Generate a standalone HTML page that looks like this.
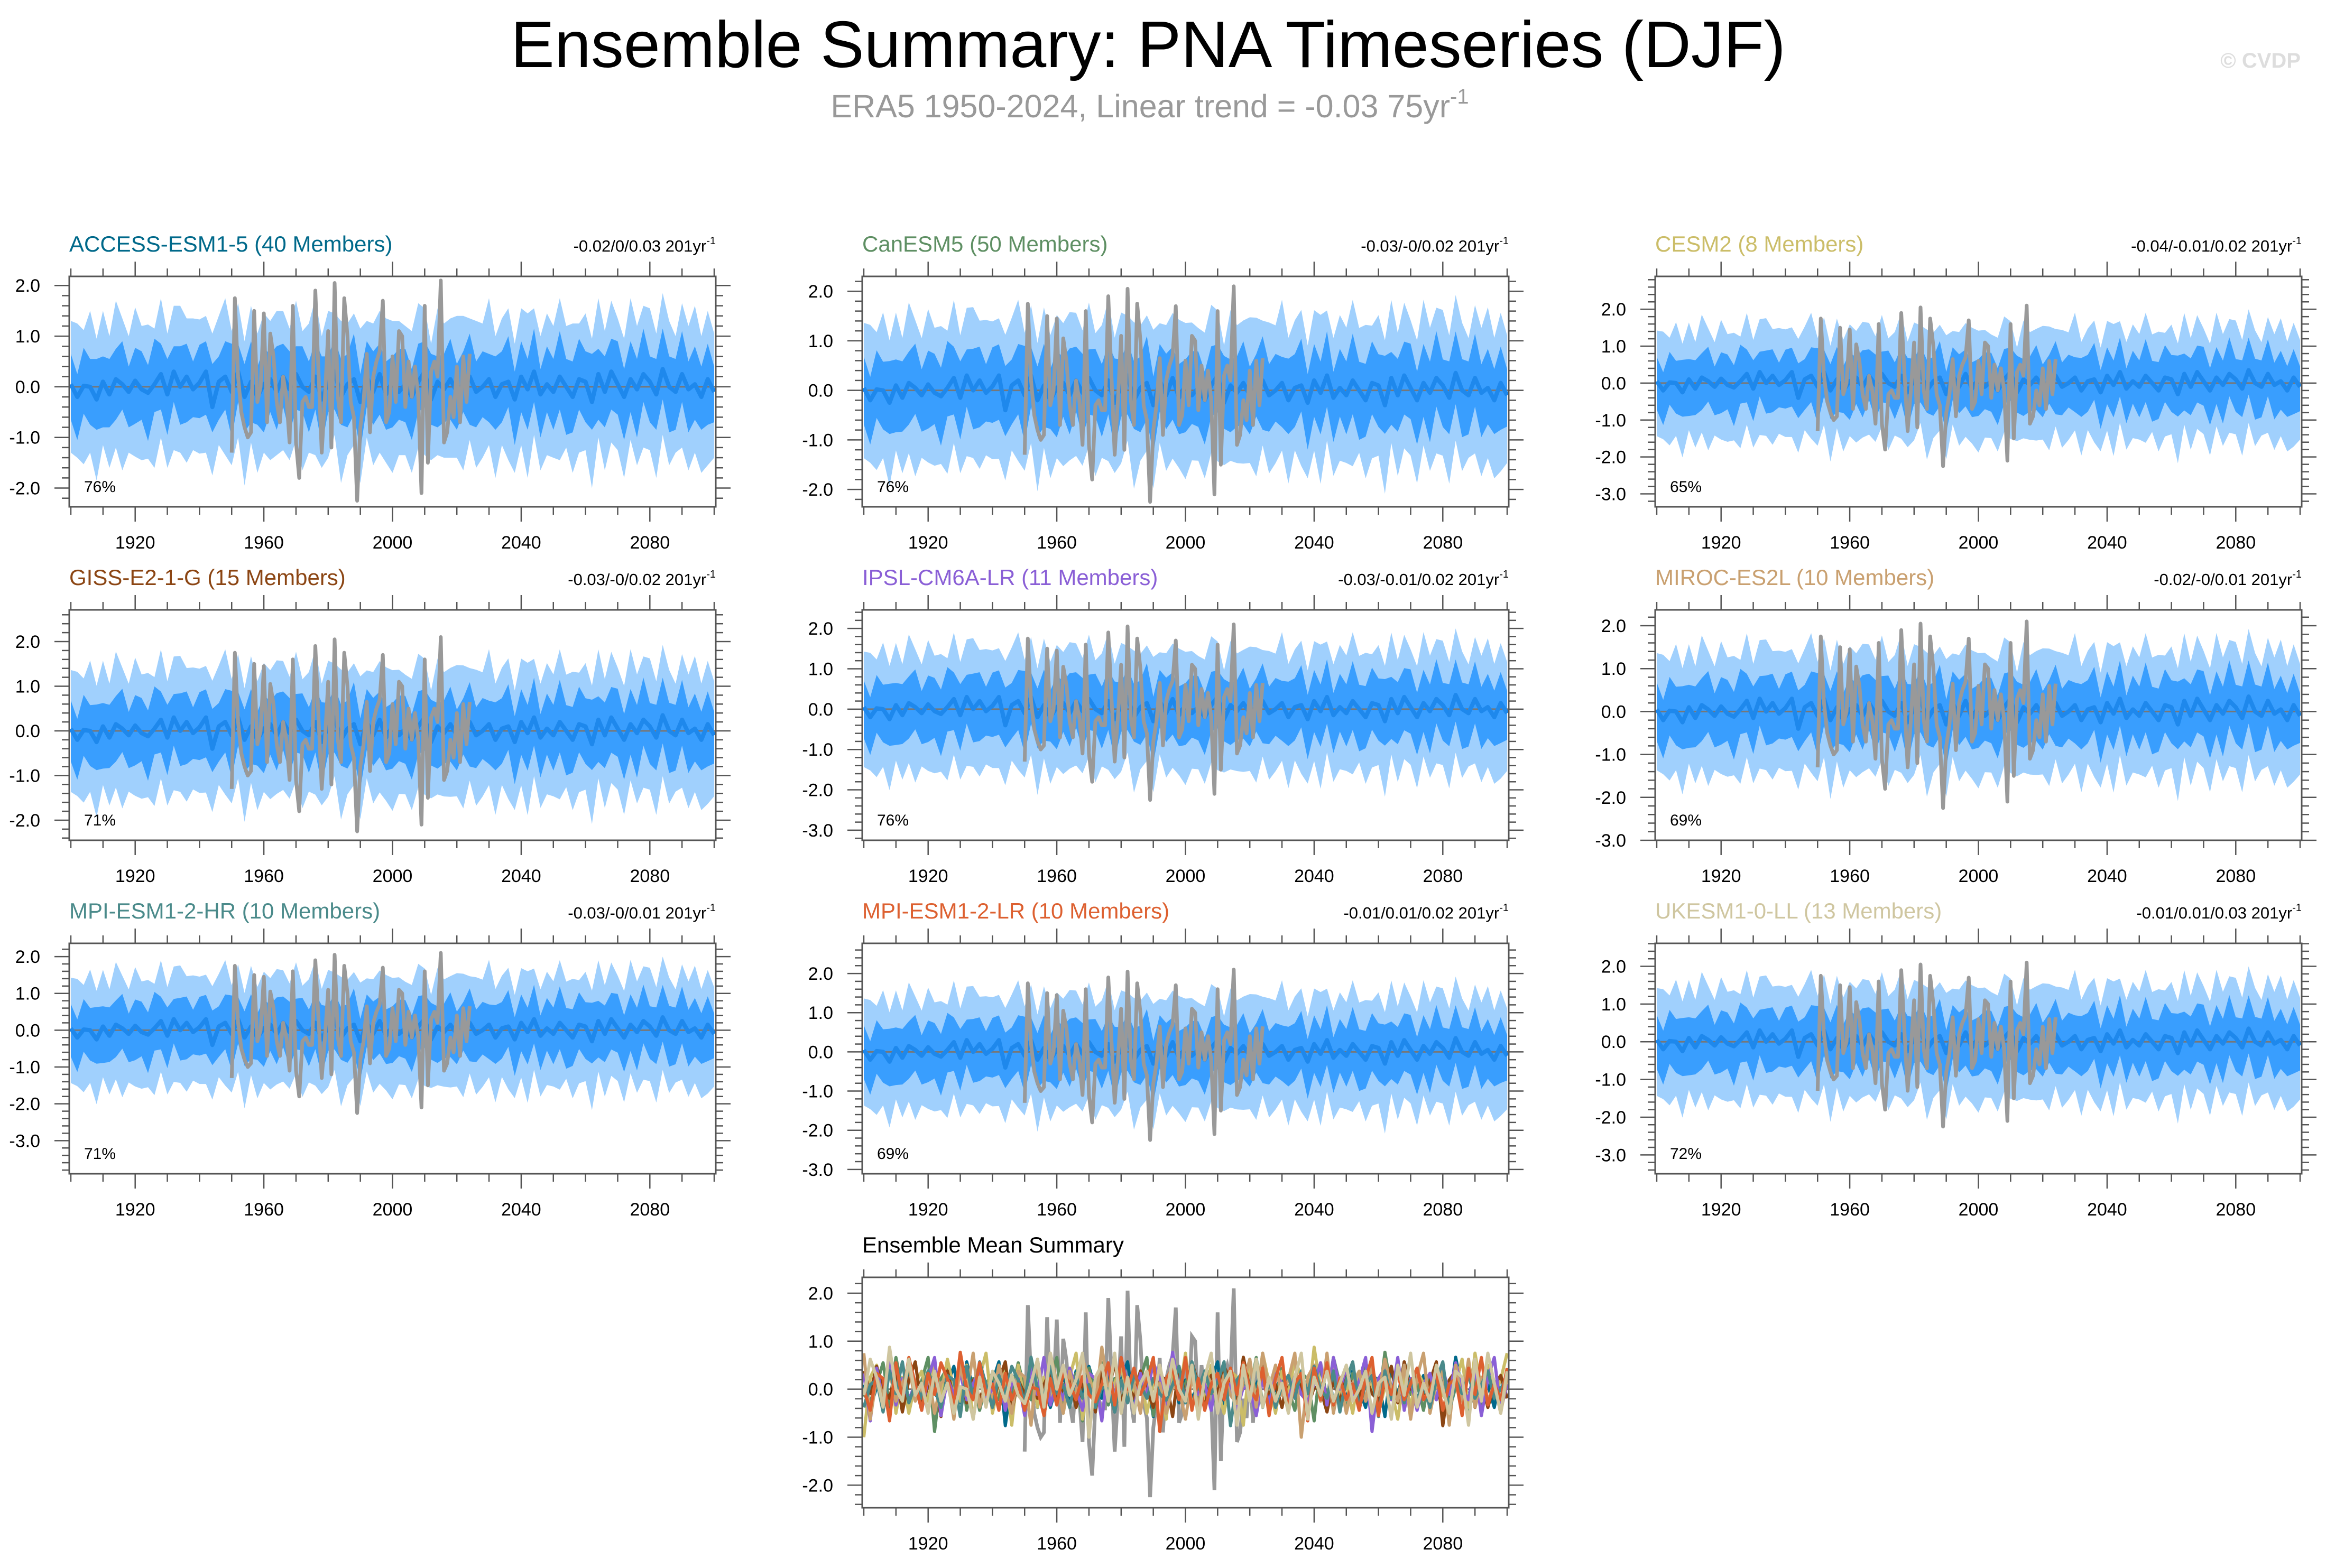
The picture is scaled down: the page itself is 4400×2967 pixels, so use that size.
<!DOCTYPE html>
<html><head><meta charset="utf-8"><title>Ensemble Summary: PNA Timeseries (DJF)</title>
<style>html,body{margin:0;padding:0;background:#fff}svg{display:block}text{font-family:"Liberation Sans",sans-serif}</style>
</head><body>
<svg id="chart" width="4400" height="2967" viewBox="0 0 4400 2967" xmlns="http://www.w3.org/2000/svg">
<text x="2172" y="127" font-size="124" text-anchor="middle" fill="#000">Ensemble Summary: PNA Timeseries (DJF)</text>
<text x="2175" y="222" font-size="61" text-anchor="middle" fill="#999">ERA5 1950-2024, Linear trend = -0.03 75yr<tspan dy="-26" font-size="40">-1</tspan></text>
<text x="4352" y="128" font-size="40" font-weight="bold" text-anchor="end" fill="#ddd">© CVDP</text>
<g id="panels"></g>
</svg>
<script>
// ERA5 observed PNA, 1950-2024
const obsYears0 = 1950;
const obsVals = [-1.3,1.75,0.2,-0.5,-0.8,-1.0,-0.9,1.5,-0.3,0.0,1.45,-0.7,1.05,0.6,-0.3,-0.7,0.2,-0.2,-1.1,1.6,-1.1,-1.8,-0.3,-0.2,-0.4,-0.4,1.9,0.3,-1.3,-0.2,1.1,-1.2,2.05,-0.2,-0.7,1.75,1.0,-0.3,-0.6,-2.25,-0.8,-0.3,0.65,-0.9,0.2,0.5,0.7,1.7,-0.7,-0.5,0.6,-0.3,1.1,1.0,-0.4,0.5,-0.2,0.4,-0.2,-2.1,1.6,-1.5,0.3,0.5,0.2,2.1,-1.1,-0.9,-0.2,-0.6,0.4,-0.7,0.6,-0.3,0.65];
// Ensemble statistics sampled every 2 years, 1900-2100
const meanV = [0.05,-0.2,0.02,0.0,-0.25,0.1,-0.15,0.15,0.05,-0.1,0.12,-0.05,-0.12,0.05,0.25,-0.15,0.3,0.0,0.2,-0.05,0.08,0.3,-0.4,0.1,0.2,-0.1,0.3,-0.2,0.1,-0.2,0.05,0.15,-0.1,0.2,-0.05,0.25,0.0,-0.1,0.2,-0.25,0.1,0.3,-0.2,0.05,0.15,-0.3,0.2,-0.1,0.25,-0.15,0.1,-0.1,0.05,-0.2,0.1,0.3,-0.25,0.1,-0.05,0.15,-0.1,0.05,0.2,-0.1,0.0,0.15,-0.2,0.05,0.1,-0.25,0.2,-0.05,0.3,-0.15,0.05,-0.1,0.2,0.0,-0.2,0.15,0.1,-0.3,0.25,-0.1,0.3,0.05,-0.2,0.15,-0.05,0.25,0.1,-0.15,0.35,0.0,-0.1,0.25,-0.05,0.05,-0.2,0.15,-0.1];
const inUp = [0.6,0.45,0.75,0.55,0.8,0.5,0.7,0.6,0.85,0.5,0.65,0.75,0.55,0.9,0.6,0.7,0.5,0.8,0.65,0.55,0.75,0.6,0.85,0.5,0.7,0.95,0.55,0.65,0.8,0.6,0.7,0.5,0.9,0.65,0.75,0.55,0.8,0.6,0.7,0.85,0.5,0.65,0.75,0.6,0.9,0.55,0.7,0.8,0.6,0.65,0.5,0.85,0.7,0.55,0.75,0.6,0.9,0.5,0.7,0.8,0.55,0.65,0.85,0.6,0.7,0.5,0.8,0.65,0.9,0.55,0.7,0.6,0.85,0.5,0.75,0.65,0.9,0.55,0.7,0.8,0.6,0.95,0.5,0.7,0.65,0.85,0.55,0.75,0.6,0.9,0.5,0.7,0.8,0.6,0.65,0.85,0.55,0.75,0.6,0.7,0.5];
const inDn = [0.7,0.85,0.55,0.75,0.6,0.9,0.65,0.8,0.5,0.7,0.85,0.6,0.95,0.55,0.7,0.8,0.6,0.75,0.9,0.55,0.7,0.85,0.5,0.75,0.65,0.9,0.6,0.7,0.8,0.55,0.95,0.65,0.75,0.6,0.85,0.7,0.5,0.8,0.65,0.9,0.6,0.75,0.55,0.85,0.7,0.95,0.6,0.65,0.8,0.7,0.9,0.55,0.75,0.85,0.6,0.7,0.5,0.9,0.65,0.8,0.75,0.55,0.95,0.7,0.6,0.85,0.65,0.75,0.5,0.9,0.7,0.8,0.6,0.85,0.55,0.75,0.65,0.95,0.7,0.6,0.8,0.55,0.9,0.7,0.75,0.6,0.85,0.65,0.95,0.55,0.8,0.7,0.6,0.9,0.75,0.55,0.85,0.7,0.65,0.9,0.6];
const outUp = [1.25,1.45,1.1,1.5,1.2,1.4,1.15,1.55,1.3,1.1,1.45,1.25,1.35,1.1,1.5,1.2,1.3,1.6,1.15,1.4,1.25,1.1,1.45,1.3,1.55,1.2,1.35,1.1,1.5,1.25,1.4,1.15,1.6,1.3,1.2,1.45,1.1,1.35,1.55,1.25,1.4,1.15,1.5,1.2,1.3,1.45,1.1,1.35,1.25,1.5,1.2,1.4,1.15,1.3,1.55,1.25,1.1,1.45,1.3,1.2,1.5,1.35,1.15,1.4,1.25,1.6,1.2,1.3,1.45,1.1,1.35,1.5,1.25,1.15,1.4,1.3,1.55,1.2,1.45,1.1,1.35,1.25,1.5,1.2,1.4,1.3,1.15,1.6,1.25,1.35,1.45,1.2,1.5,1.3,1.1,1.4,1.25,1.55,1.2,1.35,1.15];
const outDn = [1.35,1.2,1.55,1.3,1.6,1.25,1.45,1.35,1.7,1.2,1.5,1.4,1.3,1.65,1.25,1.45,1.55,1.3,1.7,1.2,1.4,1.6,1.35,1.25,1.55,1.45,1.3,1.75,1.2,1.5,1.35,1.6,1.25,1.45,1.4,1.3,1.65,1.2,1.55,1.35,1.5,1.25,1.7,1.4,1.3,1.6,1.2,1.45,1.55,1.35,1.8,1.25,1.4,1.5,1.3,1.65,1.2,1.45,1.35,1.55,1.3,1.7,1.25,1.5,1.4,1.3,1.6,1.2,1.55,1.45,1.35,1.75,1.25,1.5,1.4,1.3,1.65,1.2,1.5,1.45,1.35,1.7,1.25,1.55,1.4,1.3,1.6,1.2,1.5,1.45,1.35,1.65,1.3,1.55,1.2,1.45,1.6,1.35,1.5,1.7,1.3];
// Panel metadata
const modelNames = ["ACCESS-ESM1-5 (40 Members)","CanESM5 (50 Members)","CESM2 (8 Members)","GISS-E2-1-G (15 Members)","IPSL-CM6A-LR (11 Members)","MIROC-ES2L (10 Members)","MPI-ESM1-2-HR (10 Members)","MPI-ESM1-2-LR (10 Members)","UKESM1-0-LL (13 Members)"];
const modelColors = ["#00698a","#5e8f63","#cbbd68","#8b4513","#8a5fd6","#c9a070","#4a8a8a","#dd6030","#cfc6a0"];
const trendTexts = ["-0.02/0/0.03 201yr","-0.03/-0/0.02 201yr","-0.04/-0.01/0.02 201yr","-0.03/-0/0.02 201yr","-0.03/-0.01/0.02 201yr","-0.02/-0/0.01 201yr","-0.03/-0/0.01 201yr","-0.01/0.01/0.02 201yr","-0.01/0.01/0.03 201yr"];
const pctTexts = ["76%","76%","65%","71%","76%","69%","71%","69%","72%"];
const yMins = [-2.37,-2.35,-3.35,-2.45,-3.25,-3.0,-3.9,-3.11,-3.5];
const yMaxs = [2.18,2.3,2.89,2.71,2.46,2.37,2.36,2.77,2.61];
const spreadScale = [1.0,1.05,1.1,1.05,1.1,1.05,1.1,1.05,1.1];
const xTickLabels = [1920,1960,2000,2040,2080];

const NS = "http://www.w3.org/2000/svg";
const root = document.getElementById("panels");
function mk(tag, attrs, parent){ const e=document.createElementNS(NS,tag); for(const k in attrs) e.setAttribute(k,attrs[k]); (parent||root).appendChild(e); return e; }

const colX = [131,1631,3131], rowY = [523,1154,1785], PW = 1223, PH = 436;

function drawAxes(g, x0, y0, ymin, ymax, sx, sy){
  const box = mk("rect",{x:x0,y:y0,width:PW,height:PH,fill:"none",stroke:"#555","stroke-width":3},g);
  
  
  for(let yr=1900; yr<=2100; yr+=10){
    const major = (yr-1920)%40===0;
    const L = major?28:15, X = sx(yr);
    mk("line",{x1:X,x2:X,y1:y0,y2:y0-L,stroke:"#555","stroke-width":2.5},g);
    mk("line",{x1:X,x2:X,y1:y0+PH,y2:y0+PH+L,stroke:"#555","stroke-width":2.5},g);
  }
  xTickLabels.forEach(v=>{
    const t = mk("text",{x:sx(v),y:y0+PH+79,"font-size":34,"text-anchor":"middle",fill:"#000"},g);
    
    
    t.textContent = v;
  });
  const lo = Math.ceil(ymin*5-1e-6), hi = Math.floor(ymax*5+1e-6);
  for(let k=lo;k<=hi;k++){
    const v=k/5, major = k%5===0, L = major?28:14, Y = sy(v);
    mk("line",{x1:x0,x2:x0-L,y1:Y,y2:Y,stroke:"#555","stroke-width":2.5},g);
    mk("line",{x1:x0+PW,x2:x0+PW+L,y1:Y,y2:Y,stroke:"#555","stroke-width":2.5},g);
    if(major){
      const t = mk("text",{x:x0-55,y:Y+12,"font-size":34,"text-anchor":"end",fill:"#000"},g);
      
      
      t.textContent = v.toFixed(1);
    }
  }
}

function linePath(xs, ys){ return xs.map((x,i)=>(i?"L":"M")+x.toFixed(1)+","+ys[i].toFixed(1)).join(""); }

const n = meanV.length;
const bandYears = meanV.map((_,i)=>1900+i*200/(n-1));

modelNames.forEach((name, p)=>{
  const x0 = colX[p%3], y0 = rowY[Math.floor(p/3)];
  const ymin = yMins[p], ymax = yMaxs[p], s = spreadScale[p];
  const sx = yr => x0 + 3 + (yr-1900)*(PW-6)/200;
  const sy = v => y0 + (ymax - v)*PH/(ymax-ymin);
  const g = mk("g",{});
  
  
  const clipId = "clip"+p;
  const cp = mk("clipPath",{id:clipId},g); mk("rect",{x:x0,y:y0,width:PW,height:PH},cp);
  const pg = mk("g",{"clip-path":"url(#"+clipId+")"},g);
  const xs = bandYears.map(sx);
  const oU = meanV.map((m,i)=>sy(m+outUp[i]*s)), oD = meanV.map((m,i)=>sy(m-outDn[i]*s));
  const iU = meanV.map((m,i)=>sy(m+inUp[i]*s)), iD = meanV.map((m,i)=>sy(m-inDn[i]*s));
  const ob = mk("path",{d:linePath(xs,oU)+linePath(xs.slice().reverse(),oD.slice().reverse()).replace("M","L")+"Z",fill:"#a0d0fd"},pg);
  
  
  const ib = mk("path",{d:linePath(xs,iU)+linePath(xs.slice().reverse(),iD.slice().reverse()).replace("M","L")+"Z",fill:"#399efe"},pg);
  
  
  mk("line",{x1:x0,x2:x0+PW,y1:sy(0),y2:sy(0),stroke:"#777","stroke-width":3},pg);
  const ml = mk("path",{d:linePath(xs,meanV.map(sy)),fill:"none",stroke:"#1e88ec","stroke-width":8,"stroke-linejoin":"round"},pg);
  
  
  const ol = mk("path",{d:linePath(obsVals.map((_,i)=>sx(obsYears0+i)),obsVals.map(sy)),fill:"none",stroke:"#999","stroke-width":7,"stroke-linejoin":"round"},pg);
  
  
  drawAxes(g,x0,y0,ymin,ymax,sx,sy);
  const tt = mk("text",{x:x0,y:y0-47,"font-size":42,fill:modelColors[p]},g);
  
  
  tt.textContent = name;
  const tr = mk("text",{x:x0+PW,y:y0-47,"font-size":31,"text-anchor":"end",fill:"#000"},g);
  
  
  tr.appendChild(document.createTextNode(trendTexts[p]));
  const sup = mk("tspan",{dy:-14,"font-size":20},tr); sup.textContent="-1";
  const pc = mk("text",{x:x0+28,y:y0+PH-28,"font-size":30,fill:"#000"},g);
  
  
  pc.textContent = pctTexts[p];
});

// Ensemble mean summary panel
(function(){
  const x0=1631, y0=2417, ymin=-2.47, ymax=2.33;
  const sx = yr => x0 + 3 + (yr-1900)*(PW-6)/200;
  const sy = v => y0 + (ymax - v)*PH/(ymax-ymin);
  const g = mk("g",{});
  
  
  const cp = mk("clipPath",{id:"clipM"},g); mk("rect",{x:x0,y:y0,width:PW,height:PH},cp);
  const pg = mk("g",{"clip-path":"url(#clipM)"},g);
  mk("line",{x1:x0,x2:x0+PW,y1:sy(0),y2:sy(0),stroke:"#777","stroke-width":3},pg);
  const ol = mk("path",{d:linePath(obsVals.map((_,i)=>sx(obsYears0+i)),obsVals.map(sy)),fill:"none",stroke:"#999","stroke-width":7},pg);
  
  
  const xs = bandYears.map(sx);
  modelColors.forEach((c,p)=>{
    const vals = meanV.map((_,i)=>meanV[(i+p*11)%n]*(1.9+0.3*(p%3)));
    const l = mk("path",{d:linePath(xs,vals.map(sy)),fill:"none",stroke:c,"stroke-width":6,"stroke-linejoin":"round"},pg);
    
    
  });
  drawAxes(g,x0,y0,ymin,ymax,sx,sy);
  const tt = mk("text",{x:x0,y:y0-47,"font-size":42,fill:"#000"},g);
  
  
  tt.textContent = "Ensemble Mean Summary";
})();
</script>
</body></html>
